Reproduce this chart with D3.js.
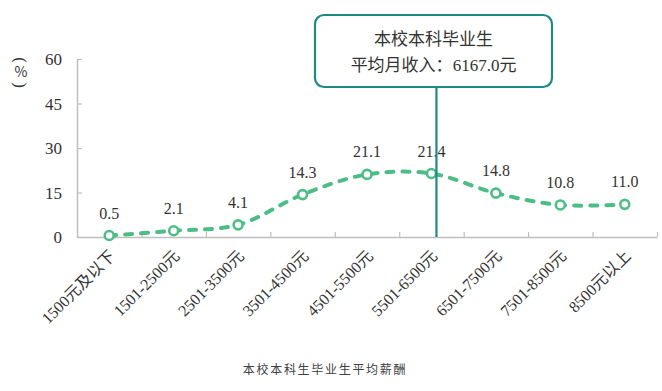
<!DOCTYPE html>
<html>
<head>
<meta charset="utf-8">
<script src="https://cdn.jsdelivr.net/npm/d3@7"></script>
<style>
  html, body { margin: 0; padding: 0; background: #fff; }
  svg { display: block; }
</style>
</head>
<body>
<svg id="chart" width="662" height="391"></svg>
<script>
const categories = ["1500元及以下", "1501-2500元", "2501-3500元", "3501-4500元", "4501-5500元", "5501-6500元", "6501-7500元", "7501-8500元", "8500元以上"];
const values = [0.5, 2.1, 4.1, 14.3, 21.1, 21.4, 14.8, 10.8, 11.0];
const valueLabels = ["0.5", "2.1", "4.1", "14.3", "21.1", "21.4", "14.8", "10.8", "11.0"];
const yTicks = [0, 15, 30, 45, 60];
const avgCategory = "5501-6500元";
const calloutLines = ["本校本科毕业生", "平均月收入：6167.0元"];
const chartTitle = "本校本科生毕业生平均薪酬";
const unitLabel = "%";

(function () {
const serif = "'Liberation Serif'";
const cjk = "'Noto Sans CJK SC'";
const sans = "'Noto Sans CJK SC', 'Noto Sans', sans-serif";
const green = "#4dbd86";
const teal = "#1f8a85";
const axisColor = "#bfbfbf";
const textColor = "#333";

// split text into runs of latin / cjk so each run gets its own font
function runs(str) {
  const out = [];
  for (const ch of str) {
    const isC = /[\u3000-\u9fff\uff00-\uffef]/.test(ch);
    if (out.length && out[out.length - 1].c === isC) out[out.length - 1].t += ch;
    else out.push({ t: ch, c: isC });
  }
  return out;
}
function fillRuns(sel, getStr) {
  sel.each(function (d, i) {
    const el = d3.select(this);
    el.text(null);
    runs(getStr(d, i)).forEach(r => {
      el.append("tspan").attr("font-family", r.c ? cjk : serif).text(r.t);
    });
  });
}

const svg = d3.select("#chart");
const mLeft = 77, mRight = 657, mTop = 59, mBottom = 237;

const x = d3.scaleBand().domain(categories).range([mLeft, mRight]).padding(0);
const y = d3.scaleLinear().domain([0, 60]).range([mBottom, mTop]);
const xb = d3.scaleLinear().domain([0, categories.length]).range([mLeft, mRight]);

// Y axis
const yAxis = svg.append("g")
  .attr("transform", `translate(${mLeft},0)`)
  .call(d3.axisLeft(y).tickValues(yTicks).tickSizeInner(-5).tickSizeOuter(0).tickPadding(15).tickFormat(d3.format("d")));
yAxis.attr("font-family", serif);
yAxis.select(".domain").attr("stroke", axisColor).attr("stroke-width", 1.5);
yAxis.selectAll(".tick line").attr("stroke", axisColor).attr("stroke-width", 1.2);
yAxis.selectAll(".tick text").attr("font-family", serif).attr("font-size", 17).attr("fill", textColor).attr("dy", "0.35em");

// X axis (ticks at band boundaries)
const xAxis = svg.append("g")
  .attr("transform", `translate(0,${mBottom})`)
  .call(d3.axisBottom(xb).tickValues(d3.range(1, categories.length + 1)).tickSizeInner(-5).tickSizeOuter(0).tickFormat(""));
xAxis.select(".domain").attr("stroke", axisColor).attr("stroke-width", 1.5);
xAxis.selectAll(".tick line").attr("stroke", axisColor).attr("stroke-width", 1.2);

// X labels rotated
svg.append("g").selectAll("text")
  .data(categories)
  .join("text")
  .attr("transform", d => `translate(${x(d) + x.bandwidth() / 2 + 3},${mBottom + 16}) rotate(-45)`)
  .attr("text-anchor", "end")
  .attr("dy", "0.35em")
  .attr("font-size", 16)
  .attr("fill", textColor)
  .call(fillRuns, d => d);

// Unit label "(%)" vertical
const ux = 21, uy = 72;
const unit = svg.append("g").attr("font-family", serif).attr("fill", textColor);
unit.append("text").attr("transform", `translate(${ux},${uy - 12}) rotate(90)`).attr("text-anchor", "middle").attr("dy", "0.35em").attr("font-size", 17).text("(");
unit.append("text").attr("x", ux).attr("y", uy).attr("text-anchor", "middle").attr("dy", "0.35em").attr("font-size", 14).attr("font-family", sans).text(unitLabel);
unit.append("text").attr("transform", `translate(${ux},${uy + 13}) rotate(90)`).attr("text-anchor", "middle").attr("dy", "0.35em").attr("font-size", 17).text(")");

// Line
const pts = categories.map((c, i) => [x(c) + x.bandwidth() / 2, y(values[i])]);
svg.append("path")
  .attr("d", d3.line().curve(d3.curveCatmullRom.alpha(0.5))(pts))
  .attr("fill", "none")
  .attr("stroke", green)
  .attr("stroke-width", 4)
  .attr("stroke-linecap", "round")
  .attr("stroke-dasharray", "7,9");

// Markers
svg.append("g").selectAll("circle")
  .data(pts)
  .join("circle")
  .attr("cx", d => d[0]).attr("cy", d => d[1]).attr("r", 4.5)
  .attr("fill", "#fff").attr("stroke", green).attr("stroke-width", 2.6);

// Value labels
svg.append("g").selectAll("text")
  .data(pts)
  .join("text")
  .attr("x", d => d[0]).attr("y", d => d[1] - 17)
  .attr("text-anchor", "middle")
  .attr("font-family", serif)
  .attr("font-size", 16)
  .attr("fill", textColor)
  .text((d, i) => valueLabels[i]);

// Callout
const lineX = x(avgCategory) + x.bandwidth() / 2 + 5;
svg.append("line")
  .attr("x1", lineX).attr("x2", lineX).attr("y1", 87).attr("y2", mBottom)
  .attr("stroke", teal).attr("stroke-width", 2.2);
svg.append("rect")
  .attr("x", 315).attr("y", 15).attr("width", 237).attr("height", 72)
  .attr("rx", 9).attr("ry", 9)
  .attr("fill", "#fff").attr("stroke", teal).attr("stroke-width", 2.2);
svg.append("g").selectAll("text")
  .data(calloutLines)
  .join("text")
  .attr("x", 433.5).attr("y", (d, i) => 45 + i * 26)
  .attr("text-anchor", "middle")
  .attr("font-size", 17)
  .attr("fill", textColor)
  .call(fillRuns, d => d);

// Title
svg.append("text")
  .attr("x", 325).attr("y", 374)
  .attr("text-anchor", "middle")
  .attr("font-family", sans)
  .attr("font-size", 12)
  .attr("letter-spacing", 1.7)
  .attr("fill", "#404040")
  .text(chartTitle);
})();
</script>
</body>
</html>
